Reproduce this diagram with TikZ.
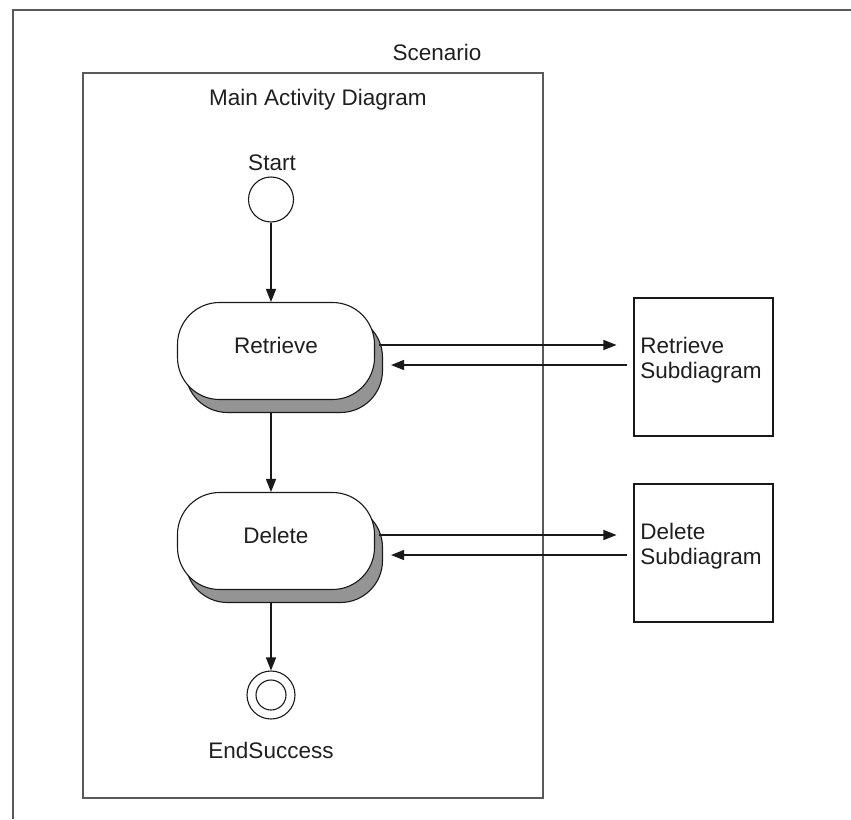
\documentclass[tikz,border=0pt]{standalone}
\usepackage{fontspec}
\setmainfont{Liberation Sans}
\usetikzlibrary{arrows.meta}
\begin{document}
\begin{tikzpicture}[x=1pt,y=-1pt,
  frame/.style={draw=black!65, line width=1.6pt},
  lbl/.style={font=\fontsize{22.5}{25}\selectfont, text=black!88, inner sep=0pt},
  act/.style={draw=black!90, line width=1.1pt, fill=white, rounded corners=42pt,
    minimum width=197pt, minimum height=97pt, inner sep=0pt},
  actshadow/.style={act, fill=black!42},
  subbox/.style={draw=black!90, line width=1.1pt, minimum width=139pt,
    minimum height=138pt, inner sep=0pt},
  state/.style={draw=black!90, line width=1.1pt, circle, inner sep=0pt},
  arr/.style={draw=black!90, line width=1.3pt, -{Triangle[length=13pt,width=10pt]}}
]
\useasboundingbox (0,0) rectangle (851,819);
% frames
\draw[frame] (13,819) -- (13,10) -- (851,10);
\draw[frame] (83,73) rectangle (543,798);
\node[lbl] (scenario) at (437,52) {Scenario};
\node[lbl] (mainlbl) at (318,100) {Main Activity Diagram};
% start
\node[lbl] (startlbl) at (272,163) {Start};
\node[state, minimum size=45pt] (start) at (271,199.5) {};
% retrieve
\node[actshadow] (retS) at (284,364) {};
\node[act] (ret) at (276,351) {};
\node[lbl] (retlbl) at (276,345) {Retrieve};
% delete
\node[actshadow] (delS) at (284,554) {};
\node[act] (del) at (276,541) {};
\node[lbl] (dellbl) at (276,535) {Delete};
% end
\node[state, minimum size=48pt] (end) at (271,695) {};
\node[state, minimum size=30pt] (endin) at (end.center) {};
\node[lbl] (endlbl) at (271,750) {EndSuccess};
% subdiagrams
\node[subbox] (retsub) at (703.5,367) {};
\node[lbl, align=left] (retsublbl) at (701,360) {Retrieve\\Subdiagram};
\node[subbox] (delsub) at (703.5,553) {};
\node[lbl, align=left] (delsublbl) at (701,546) {Delete\\Subdiagram};
% flow arrows
\draw[arr] (start.south) -- (start.south |- ret.north);
\draw[arr] (start.south |- retS.south) -- (start.south |- del.north);
\draw[arr] (start.south |- delS.south) -- (end.north);
% subdiagram arrows
\draw[arr] ([xshift=4pt,yshift=6pt]ret.east) -- ([xshift=-17pt,yshift=22pt]retsub.west);
\draw[arr] ([xshift=-6pt,yshift=2pt]retsub.west) -- ([xshift=16pt,yshift=-14pt]ret.east);
\draw[arr] ([xshift=4pt,yshift=6pt]del.east) -- ([xshift=-17pt,yshift=18pt]delsub.west);
\draw[arr] ([xshift=-6pt,yshift=-2pt]delsub.west) -- ([xshift=16pt,yshift=-14pt]del.east);
\end{tikzpicture}
\end{document}
